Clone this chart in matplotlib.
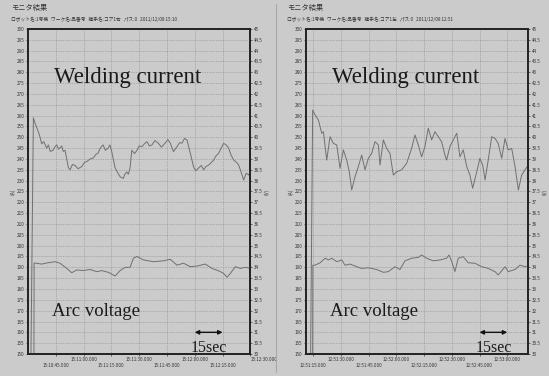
import matplotlib.pyplot as plt

plt.rcParams['font.family'] = ['Noto Sans CJK JP', 'DejaVu Sans']

# left chart, seconds after 15:10:00
l_cur_t = [31.6, 32.9, 34.0, 35.4, 36.2, 37.4, 38.5, 40.1, 41.0, 42.0, 43.5, 44.4, 45.5, 46.5, 48.2,
           49.0, 50.0, 51.8, 52.7, 54.0, 55.4, 57.0, 59.0, 60.5, 61.7, 63.5, 65.3, 66.5, 67.8, 69.0,
           70.5, 71.8, 73.2, 74.2, 75.2, 77.0, 78.5, 79.7, 81.4, 82.3, 83.3, 84.2, 85.1, 86.0, 87.5,
           88.8, 90.0, 91.5, 92.8, 94.2, 95.5, 96.9, 98.5, 100.3, 102.0, 104.0, 105.5, 106.8, 108.5,
           110.4, 111.8, 113.1, 114.5, 115.8, 117.6, 119.3, 120.5, 122.0, 123.5, 124.8, 126.0, 127.5,
           129.0, 130.2, 131.5, 132.9, 134.2, 135.6, 137.0, 138.3, 139.5, 141.0, 142.5, 143.7, 145.0,
           146.4, 147.8, 149.1, 150.0]
l_cur_a = [150, 259, 256, 253, 251, 247, 248, 245, 246.5, 243.5, 244, 245.5, 246.5, 244.5, 246,
           243.5, 244, 236, 235, 237.5, 237, 235.5, 236.5, 238.5, 238.8, 240, 240.5, 242, 242.7, 245,
           246.5, 244, 245, 246.5, 243.4, 236, 233.5, 231.8, 231, 233, 234, 233, 236, 244, 242.5,
           244, 246, 245.7, 247, 248, 246, 246.5, 248.5, 247.3, 245.5, 247.3, 249, 247.3, 243.4,
           245.7, 247.5, 247.3, 249.5, 248.8, 242.7, 236.5, 234.5, 235.8, 237, 235, 236.5, 237.2,
           238.5, 239.5, 241.5, 242.6, 245, 247.2, 246.5, 245, 242, 239.5, 238.5, 237.2, 234,
           230.3, 233.5, 232.6, 234]
l_vol_t = [33.2, 33.3, 34.3, 37.4, 40.1, 44.6, 47.3, 50.9, 53.6, 56.3, 59.9, 63.5, 67.1, 69.8, 73.4,
           77.0, 79.7, 82.4, 85.1, 86.9, 88.8, 92.3, 97.7, 103.1, 106.8, 110.4, 113.9, 117.6, 121.2,
           125.7, 129.3, 132.9, 135.6, 137.4, 139.2, 141.9, 144.6, 147.3, 150.0]
l_vol_v = [30, 34.2, 34.19, 34.15, 34.2, 34.26, 34.19, 33.95, 33.75, 33.88, 33.85, 33.9, 33.8, 33.85,
           33.77, 33.6, 33.85, 34.0, 34.0, 34.42, 34.5, 34.34, 34.26, 34.3, 34.37, 34.1, 34.19, 34.03,
           34.06, 34.15, 33.95, 33.84, 33.72, 33.54, 33.72, 34.03, 33.95, 34.0, 33.95]

# right chart, seconds after 12:51:00
r_cur_t = [13.7, 14.8, 16.1, 17.9, 19.7, 20.6, 22.4, 24.2, 26.0, 27.8, 29.6, 31.4, 33.2, 34.6, 35.9,
           37.7, 39.5, 41.3, 43.1, 44.9, 46.7, 48.5, 50.3, 51.2, 53.0, 54.8, 56.6, 58.4, 60.2, 62.9,
           65.6, 68.3, 70.1, 71.9, 73.7, 75.5, 77.3, 79.1, 80.9, 82.7, 84.5, 86.3, 87.2, 89.0, 90.8,
           92.7, 94.4, 96.2, 98.1, 99.8, 101.3, 103.5, 105.2, 106.7, 108.0, 109.7, 111.6, 113.4, 115.1,
           117.0, 118.8, 120.5, 122.4, 124.2, 126.0, 127.8, 129.6, 131.4]
r_cur_a = [150, 262.6, 260.3, 258, 251.9, 252.6, 239.5, 250.3, 247.2, 246.5, 235.7, 244.2, 239.5,
           234.1, 225.7, 231.8, 236.5, 241.8, 235, 240.3, 242.6, 248, 246.5, 237.2, 248.8, 244.9,
           242.6, 232.6, 234.1, 235, 238, 244.9, 251.1, 246.5, 241, 245.7, 254.2, 248.8, 252.6, 250.3,
           248, 241.8, 239.5, 245.7, 248.8, 251.9, 241, 244.2, 236.5, 232.6, 226.5, 234.1, 240.3,
           237.2, 230.3, 239.5, 250.3, 249.5, 247.2, 240.3, 249.5, 244.2, 244.9, 236.5, 225.7, 232.6,
           235, 237.2]
r_vol_t = [14.8, 14.9, 16.1, 18.8, 21.5, 23.3, 25.1, 27.8, 30.5, 32.3, 35.0, 38.6, 41.3, 44.9, 49.4,
           53.0, 55.7, 59.3, 62.0, 64.7, 68.3, 71.9, 73.7, 76.4, 80.0, 83.6, 87.2, 88.5, 90.0, 91.7,
           93.5, 96.2, 98.9, 102.5, 106.2, 109.7, 113.4, 115.1, 117.0, 118.8, 120.5, 124.2, 126.9,
           129.6, 131.4]
r_vol_v = [30, 34.1, 34.1, 34.21, 34.42, 34.34, 34.42, 34.26, 34.34, 34.1, 34.15, 34.03, 33.95, 33.98,
           33.9, 33.77, 33.8, 34.03, 33.9, 34.3, 34.42, 34.46, 34.57, 34.42, 34.3, 34.34, 34.42, 34.57,
           34.26, 33.8, 34.42, 34.49, 34.21, 34.19, 34.03, 33.95, 33.8, 33.65, 33.84, 34.03, 33.8,
           33.9, 34.1, 34.03, 34.06]

l_ticks = [45, 60, 75, 90, 105, 120, 135, 150]
l_labels = ["15:10:45.000", "15:11:00.000", "15:11:15.000", "15:11:30.000",
            "15:11:45.000", "15:12:00.000", "15:12:15.000", "15:12:30.000"]
r_ticks = [15, 30, 45, 60, 75, 90, 105, 120]
r_labels = ["12:51:15.000", "12:51:30.000", "12:51:45.000", "12:52:00.000",
            "12:52:15.000", "12:52:30.000", "12:52:45.000", "12:53:00.000"]

headers = ["ロボット名:1号機   ワーク名:品番号   継手名:コア1右   パス:0   2011/12/08 15:10",
           "ロボット名:1号機   ワーク名:品番号   継手名:コア1左   パス:0   2011/12/08 12:51"]

bg = '#cbcbcb'
line_c = '#707070'
txt_c = '#333333'
serif = ['Liberation Serif', 'DejaVu Serif']

fig = plt.figure(figsize=(5.49, 3.76), dpi=100, facecolor=bg)


def panel(left, xlim, ct, ca, vt, vv, ticks, labels, arrow, head, hx):
    ax = fig.add_axes([left, 0.0585, 0.405, 0.8644])
    ax.set_facecolor(bg)
    ax.plot(ct, ca, color=line_c, lw=0.7)
    ax.set_xlim(*xlim)
    ax.set_ylim(150, 300)
    ax.set_yticks(range(150, 301, 5))
    ax.set_xticks(ticks)
    ax.set_xticklabels([("\n" if i % 2 == 0 else "") + s for i, s in enumerate(labels)])
    ax.grid(True, linestyle=(0, (1, 1.5)), color='#8a8a8a', lw=0.5)
    ax.tick_params(labelsize=3.3, length=1.5, width=0.5, pad=1, colors=txt_c)
    ax.set_ylabel("(A)", fontsize=3.5, color=txt_c, labelpad=1)
    for s in ax.spines.values():
        s.set_linewidth(1.2)
        s.set_color('#222222')

    ax2 = ax.twinx()
    ax2.plot(vt, vv, color=line_c, lw=0.7)
    ax2.set_ylim(30, 45)
    ax2.set_yticks([30 + 0.5 * i for i in range(31)])
    ax2.set_yticklabels(["%g" % (30 + 0.5 * i) for i in range(31)])
    ax2.tick_params(labelsize=3.3, length=1.5, width=0.5, pad=1, colors=txt_c)
    ax2.set_ylabel("(V)", fontsize=3.5, color=txt_c, labelpad=1)
    for s in ax2.spines.values():
        s.set_linewidth(1.2)
        s.set_color('#222222')

    ax.text(0.115, 0.85, "Welding current", transform=ax.transAxes, family=serif,
            fontsize=16.5, color='#1a1a1a', va='center')
    ax.text(0.11, 0.13, "Arc voltage", transform=ax.transAxes, family=serif,
            fontsize=13.5, color='#1a1a1a', va='center')
    ax.annotate("", xy=(arrow[1], 160), xytext=(arrow[0], 160),
                arrowprops=dict(arrowstyle='<|-|>', color='#111111', lw=1.0,
                                mutation_scale=6, shrinkA=0, shrinkB=0))
    ax.text((arrow[0] + arrow[1]) / 2, 153, "15sec", family=serif, fontsize=11.5,
            color='#1a1a1a', ha='center', va='center')

    fig.text(hx, 1 - 8 / 376, "モニタ結果", fontsize=5.2, color=txt_c, va='center')
    fig.text(hx, 1 - 19 / 376, head, fontsize=3.4, color=txt_c, va='center')
    return ax


axl = panel(28 / 549, (30, 150), l_cur_t, l_cur_a, l_vol_t, l_vol_v, l_ticks, l_labels,
            (120, 135), headers[0], 11 / 549)
axl.get_xticklabels()[-1].set_ha('left')
panel(306 / 549, (11.2, 131.4), r_cur_t, r_cur_a, r_vol_t, r_vol_v, r_ticks, r_labels,
      (105, 120), headers[1], 287 / 549)

fig.add_artist(plt.Line2D([276 / 549, 276 / 549], [0.01, 0.99], color='#a8a8a8', lw=0.8))

fig.savefig("out.png", dpi=100, facecolor=bg)
